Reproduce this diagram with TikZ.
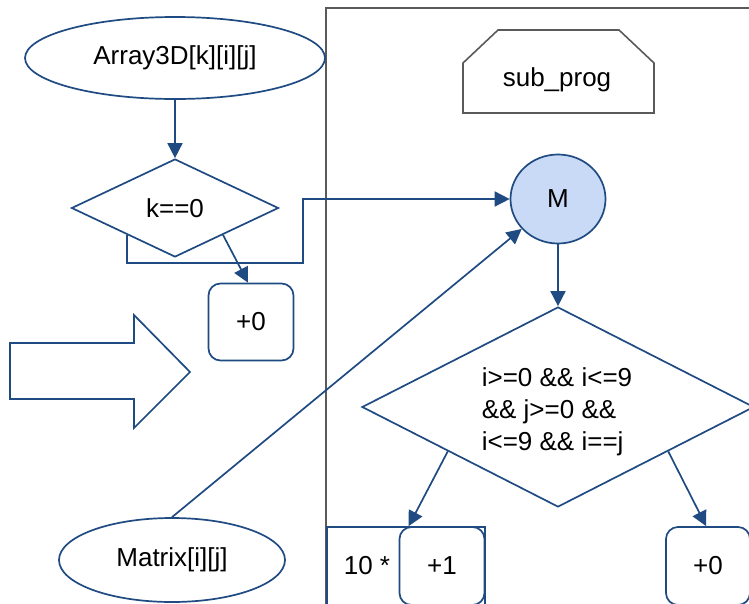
\documentclass[tikz,border=0pt]{standalone}
\usepackage{fontspec}
\setmainfont{Liberation Sans}
\usetikzlibrary{shapes.geometric,arrows.meta,calc}

\definecolor{flowblue}{RGB}{31,75,130}
\definecolor{mfill}{RGB}{200,218,245}
\definecolor{framegray}{RGB}{90,90,90}

\tikzset{
  every node/.style={font=\fontsize{26}{32}\selectfont, text=black},
  blueline/.style={draw=flowblue, line width=1.7pt},
  arr/.style={blueline, -{Triangle[length=15pt,width=15pt]}},
  termbox/.style={blueline, ellipse, inner sep=0pt},
  decbox/.style={blueline, diamond, shape aspect=2, inner sep=2pt},
  valbox/.style={blueline, rectangle, rounded corners=12pt, inner sep=0pt},
}

\begin{document}
\begin{tikzpicture}[x=1pt, y=-1pt]
  \useasboundingbox (0,0) rectangle (749,603);
  \clip (0,0) rectangle (749,603);
  \fill[white] (0,0) rectangle (749,603);

  % sub-program frame
  \draw[framegray, line width=1.6pt] (326,8) rectangle (800,660);
  \draw[framegray, line width=1.6pt]
    (463,113) -- (463,63) -- (498,30) -- (619,30) -- (654,63) -- (654,113) -- cycle;
  \node (subprog) at (557,80) {sub\_prog};

  % left column
  \node[termbox, minimum width=300pt, minimum height=82pt] (a3d) at (175,58) {Array3D[k][i][j]};
  \node[decbox, minimum width=207pt, minimum height=98pt] (kdec) at (175,208) {k==0};
  \node[valbox, minimum width=85pt, minimum height=77pt] (zeroA) at (251,322) {+0};
  \node[termbox, minimum width=226pt, minimum height=84pt] (mat) at (172,560) {Matrix[i][j]};

  % block arrow
  \draw[blueline, line join=miter]
    (10,343) -- (134,343) -- (134,315) -- (190,372) -- (134,428) -- (134,399) -- (10,399) -- cycle;

  % sub-program contents
  \node[blueline, ellipse, fill=mfill, minimum width=95pt, minimum height=89pt, inner sep=0pt] (M) at (558,199) {M};
  \node[decbox, minimum width=392pt, minimum height=200pt] (bigd) at (558,407) {};
  \node[align=left] (cond) at (557,412)
    {i>=0 \&\& i<=9\\\&\& j>=0 \&\&\\i<=9 \&\& i==j};
  \node[blueline, rectangle, minimum width=158pt, minimum height=80pt, inner sep=0pt] (tenbox) at (406,567) {};
  \node (tentext) at (367,566) {10 *};
  \node[valbox, minimum width=85pt, minimum height=78pt] (oneB) at (442,566) {+1};
  \node[valbox, minimum width=84pt, minimum height=78pt] (zeroC) at (708,566) {+0};

  % connectors
  \coordinate (bend) at (303,263);
  \draw[arr] (a3d) -- (kdec);
  \draw[arr] ($(kdec.west)!0.54!(kdec.south)$) |- (bend) |- (M.west);
  \draw[arr] ($(kdec.east)!0.54!(kdec.south)$) -- ($(zeroA.north)+(-3,0)$);
  \draw[arr] (mat.north) -- (M);
  \draw[arr] (M) -- (bigd.north);
  \draw[arr] ($(bigd.west)!0.44!(bigd.south)$) -- ($(oneB.north west)+(10,0)$);
  \draw[arr] ($(bigd.east)!0.44!(bigd.south)$) -- ($(zeroC.north west)+(41,0)$);
\end{tikzpicture}
\end{document}
